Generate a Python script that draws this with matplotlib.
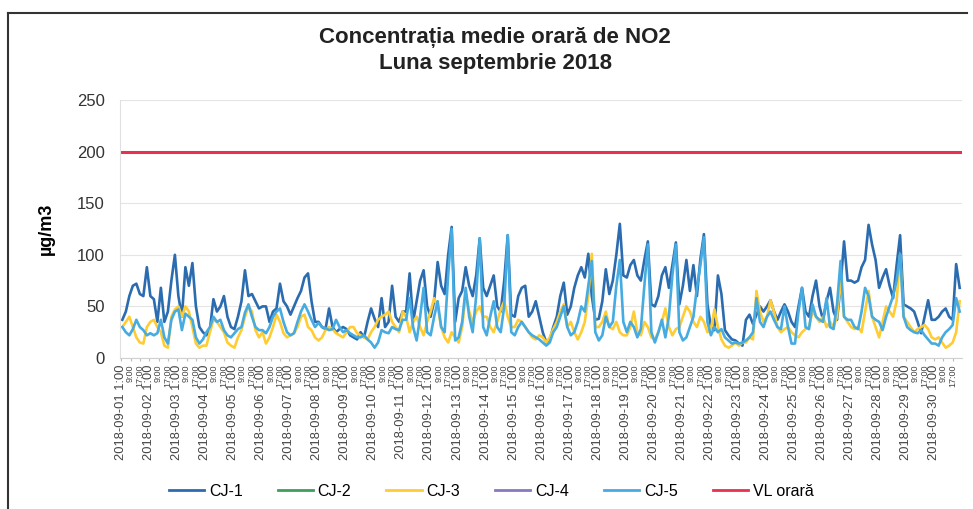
import numpy as np
import matplotlib
matplotlib.use("Agg")
import matplotlib.pyplot as plt
from matplotlib.lines import Line2D

plt.rcParams['font.family'] = ['Liberation Sans', 'DejaVu Sans']

# 3-hourly estimates (8 values per day, 30 days)
cj1 = [
    37, 45, 60, 70, 72, 62, 60, 88,
    60, 57, 35, 68, 35, 45, 75, 100,
    60, 40, 88, 70, 92, 50, 30, 25,
    22, 28, 57, 45, 50, 60, 40, 30,
    28, 40, 55, 85, 60, 62, 55, 48,
    50, 50, 35, 45, 48, 72, 55, 50,
    42, 50, 58, 65, 78, 82, 55, 35,
    35, 30, 28, 48, 30, 25, 28, 30,
    28, 22, 20, 18, 25, 20, 35, 48,
    38, 30, 58, 30, 35, 70, 40, 35,
    45, 45, 82, 35, 55, 75, 85, 50,
    40, 55, 93, 70, 62, 100, 127, 35,
    58, 65, 88, 70, 60, 80, 116, 68,
    60, 70, 80, 50, 45, 75, 119, 42,
    40, 60, 68, 70, 40, 45, 55, 40,
    25, 15, 18, 30, 40, 60, 73, 42,
    50, 68, 80, 88, 78, 101, 60, 37,
    38, 55, 86, 62, 75, 100, 130, 80,
    78, 90, 95, 80, 75, 95, 113, 52,
    50, 60, 80, 88, 68, 90, 112, 52,
    70, 95, 65, 90, 60, 96, 120, 52,
    30, 27, 80, 62, 27, 22, 18, 17,
    14, 12, 37, 42, 33, 42, 50, 45,
    50, 56, 45, 37, 45, 52, 45, 35,
    30, 50, 68, 45, 40, 60, 75, 50,
    37, 55, 68, 45, 37, 70, 113, 75,
    75, 73, 75, 88, 95, 129, 110, 95,
    68, 78, 86, 70, 58, 90, 119, 52,
    50, 48, 45, 35, 24, 40, 56, 37,
    37, 40, 45, 48, 40, 37, 91, 68,
]
cj2 = []
cj3 = [
    30, 35, 40, 30, 20, 15, 14, 30,
    35, 37, 30, 25, 12, 10, 40, 47,
    50, 40, 50, 45, 30, 14, 10, 12,
    12, 25, 37, 35, 30, 25, 15, 12,
    10, 20, 27, 40, 50, 45, 27, 20,
    25, 14, 20, 30, 42, 35, 24, 20,
    22, 24, 30, 40, 42, 30, 27, 20,
    17, 20, 27, 30, 28, 24, 22, 20,
    25, 30, 30, 24, 22, 20, 18, 25,
    30, 37, 40, 42, 45, 35, 30, 25,
    45, 40, 25, 35, 40, 30, 22, 35,
    45, 58, 50, 30, 20, 15, 25, 20,
    15, 30, 62, 45, 35, 45, 50, 40,
    40, 30, 25, 35, 47, 55, 40, 30,
    30, 37, 35, 30, 25, 20, 18, 22,
    20, 15, 20, 28, 35, 45, 52, 30,
    35, 25, 18, 25, 35, 60, 101, 30,
    30, 35, 45, 30, 28, 35, 25, 22,
    22, 30, 45, 25, 22, 35, 30, 20,
    18, 25, 35, 48, 30, 22, 28, 30,
    40, 50, 45, 35, 30, 40, 35, 25,
    28, 47, 30, 18, 12, 10, 12, 15,
    12, 15, 15, 20, 18, 65, 45, 35,
    40, 56, 45, 30, 25, 28, 30, 25,
    22, 20, 25, 28, 30, 45, 40, 35,
    40, 30, 35, 30, 40, 76, 40, 35,
    30, 28, 30, 25, 45, 65, 40, 30,
    20, 35, 50, 45, 40, 55, 100, 40,
    35, 30, 25, 28, 30, 32, 28, 20,
    18, 20, 15, 10, 12, 15, 25, 55,
]
cj4 = []
cj5 = [
    30, 25, 22, 28, 37, 30, 27, 22,
    24, 22, 24, 37, 20, 14, 37, 45,
    47, 27, 43, 40, 37, 20, 14, 18,
    25, 30, 40, 35, 37, 27, 22, 20,
    24, 28, 30, 44, 52, 40, 30, 27,
    27, 24, 30, 40, 45, 48, 35, 25,
    22, 24, 35, 45, 52, 45, 37, 30,
    34, 30, 29, 27, 28, 37, 30, 25,
    27, 24, 22, 20, 20, 22, 18, 15,
    10, 15, 27, 25, 24, 30, 28, 27,
    37, 37, 58, 30, 17, 40, 68, 25,
    22, 40, 55, 30, 25, 80, 125, 17,
    20, 35, 68, 40, 25, 60, 116, 30,
    22, 40, 55, 30, 25, 50, 119, 25,
    22, 30, 35, 30, 25, 22, 20, 18,
    15, 12, 15, 25, 30, 40, 50, 30,
    22, 25, 35, 50, 45, 70, 94, 25,
    17, 22, 40, 30, 35, 70, 95, 35,
    25, 35, 30, 20, 28, 70, 110, 25,
    15, 25, 37, 20, 40, 80, 110, 25,
    17, 20, 30, 40, 68, 90, 117, 35,
    22, 30, 25, 28, 20, 17, 14, 15,
    14, 15, 17, 20, 25, 58, 35, 30,
    40, 45, 37, 30, 28, 50, 30, 14,
    14, 45, 68, 30, 28, 52, 40, 37,
    35, 58, 30, 28, 52, 94, 40, 37,
    37, 30, 28, 45, 68, 60, 40, 37,
    35, 27, 40, 50, 60, 75, 101, 40,
    30, 27, 25, 24, 27, 22, 18, 14,
    14, 12, 20, 25, 28, 32, 58, 45,
]
vl_orara = 200
series_names = ["CJ-1", "CJ-2", "CJ-3", "CJ-4", "CJ-5", "VL orară"]
days = [f"2018-09-{d:02d}" for d in range(1, 31)]
times = ["1:00", "9:00", "17:00"]

colors = ["#2b6cb0", "#3e9e5b", "#ffcc33", "#8878bf", "#45abe0", "#e8304f"]

fig = plt.figure(figsize=(9.73, 5.09), dpi=100)
ax = fig.add_axes([120/973, 1-358/509, (962-120)/973, (358-100)/509])

n_hours = 720
for name, data, c in zip(series_names[:5], [cj1, cj2, cj3, cj4, cj5], colors[:5]):
    if len(data):
        ax.plot(np.arange(len(data)) * 3 + 1, data, color=c, lw=1.9, solid_joinstyle='round')
ax.plot([0, n_hours - 1], [vl_orara, vl_orara], color=colors[5], lw=2.2)

ax.set_xlim(-1, n_hours)
ax.set_ylim(0, 250)
ax.set_yticks(range(0, 251, 50))
ax.tick_params(axis='y', length=0, labelsize=12, pad=11, colors='#333333')
ax.grid(axis='y', color='#e4e4e4', lw=0.8)
ax.set_axisbelow(True)

tick_pos = []
tick_lab = []
for i, d in enumerate(days):
    for j, t in enumerate(times):
        tick_pos.append(i * 24 + j * 8)
        tick_lab.append(f"{d} {t}" if j == 0 else t)
ax.set_xticks(tick_pos)
labels = ax.set_xticklabels(tick_lab, rotation=90, fontsize=9.3, color='#444444')
for k, lab in enumerate(labels):
    if k % 3 != 0:
        lab.set_fontsize(6.5)
ax.tick_params(axis='x', length=2, color='#bbbbbb', pad=3)

for s in ['top', 'right']:
    ax.spines[s].set_visible(False)
ax.spines['left'].set_color('#e0e0e0')
ax.spines['bottom'].set_color('#d0d0d0')

ax.set_ylabel("µg/m3", fontsize=13, fontweight='bold', labelpad=16)

fig.text(0.509, 1 - 38/509, "Concentrația medie orară de NO2", ha='center', va='center',
         fontsize=16, fontweight='bold', color='#222222')
fig.text(0.509, 1 - 63/509, "Luna septembrie 2018", ha='center', va='center',
         fontsize=16, fontweight='bold', color='#222222')

handles = [Line2D([0], [0], color=c, lw=2) for c in colors]
fig.legend(handles, series_names, loc='center', bbox_to_anchor=(0.505, 1 - 491/509),
           ncol=6, frameon=False, fontsize=11.5, handlelength=2.2, handletextpad=0.3,
           columnspacing=2.2)

# chart frame
fig.add_artist(Line2D([8/973, 8/973], [0, 1 - 13/509], color='#333333', lw=1.5))
fig.add_artist(Line2D([8/973, 967/973], [1 - 13/509, 1 - 13/509], color='#333333', lw=1.5))

fig.savefig("out.png", dpi=100)
